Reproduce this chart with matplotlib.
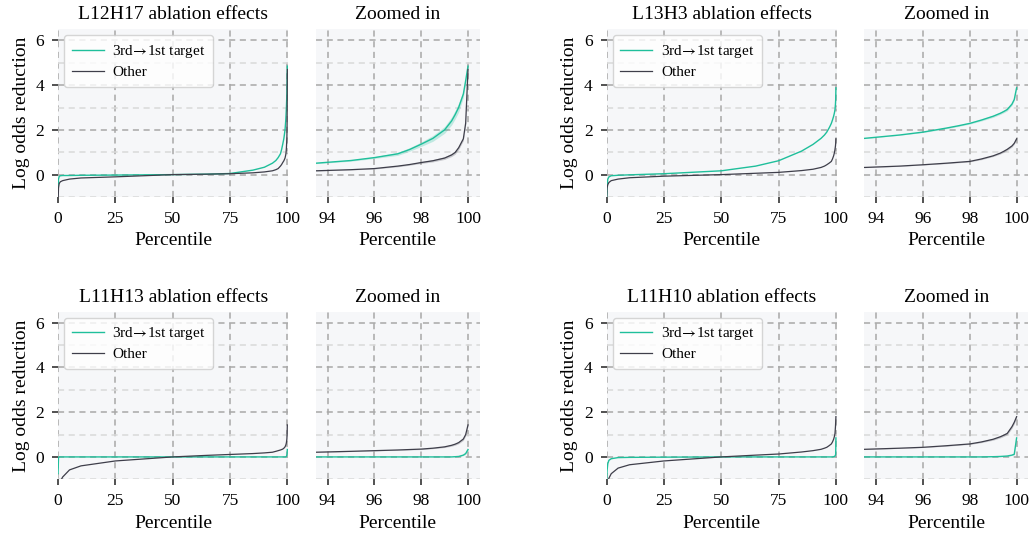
import matplotlib
matplotlib.use("Agg")
import matplotlib.pyplot as plt
from matplotlib.ticker import MultipleLocator

plt.rcParams["font.family"] = ["Liberation Serif", "DejaVu Serif"]
plt.rcParams["mathtext.fontset"] = "stix"

TEAL = "#1fbf9b"
GRAY = "#3e3e4a"
BG = "#f6f7f9"

# percentile knots shared by every curve
PCT = [0, 0.2, 0.5, 1, 2, 5, 10, 25, 50, 65, 75, 85, 90,
       93.5, 95, 96, 97, 97.5, 98, 98.5, 99, 99.3, 99.45, 99.6, 99.8, 99.9, 100]
N_TAIL = 14  # knots from 93.5 onwards carry a spread band

heads = ["L12H17", "L13H3", "L11H13", "L11H10"]

l12h17_target = [-0.6, -0.2, -0.08, -0.05, -0.04, -0.04, -0.03, -0.02, 0.0, 0.02, 0.05, 0.2, 0.33,
                 0.51, 0.63, 0.76, 0.93, 1.12, 1.36, 1.62, 2.0, 2.4, 2.68, 3.0, 3.6, 4.2, 4.85]
l12h17_other = [-1.3, -0.6, -0.4, -0.32, -0.27, -0.2, -0.15, -0.1, 0.0, 0.02, 0.04, 0.08, 0.12,
                0.17, 0.22, 0.27, 0.38, 0.45, 0.54, 0.62, 0.74, 0.88, 0.99, 1.2, 1.6, 2.3, 4.7]
l13h3_target = [-1.05, -0.5, -0.2, -0.1, -0.05, -0.03, -0.01, 0.04, 0.17, 0.38, 0.62, 1.05, 1.35,
                1.62, 1.77, 1.9, 2.08, 2.18, 2.29, 2.44, 2.61, 2.74, 2.82, 2.91, 3.15, 3.36, 3.88]
l13h3_other = [-1.05, -0.6, -0.45, -0.35, -0.27, -0.2, -0.14, -0.07, 0.0, 0.06, 0.1, 0.18, 0.24,
               0.32, 0.38, 0.44, 0.51, 0.55, 0.59, 0.7, 0.84, 0.96, 1.04, 1.13, 1.28, 1.4, 1.6]
l11h13_target = [-0.75, -0.02, 0.0, 0.0, 0.0, 0.0, 0.0, 0.0, 0.0, 0.0, 0.0, 0.0, 0.0,
                 0.0, 0.0, 0.0, 0.0, 0.0, 0.0, 0.0, 0.0, 0.0, 0.01, 0.02, 0.08, 0.15, 0.33]
l11h13_other = [-1.8, -1.5, -1.3, -1.1, -0.9, -0.58, -0.4, -0.18, 0.0, 0.07, 0.11, 0.15, 0.18,
                0.21, 0.25, 0.28, 0.31, 0.33, 0.35, 0.39, 0.45, 0.52, 0.57, 0.64, 0.8, 1.0, 1.43]
l11h10_target = [-1.05, -0.6, -0.3, -0.15, -0.08, -0.03, -0.02, -0.01, 0.0, 0.0, 0.0, 0.0, 0.0,
                 0.0, 0.0, 0.0, 0.0, 0.0, 0.0, 0.0, 0.01, 0.02, 0.03, 0.04, 0.08, 0.12, 0.85]
l11h10_other = [-1.6, -1.3, -1.1, -0.95, -0.75, -0.5, -0.35, -0.18, 0.0, 0.08, 0.13, 0.22, 0.28,
                0.34, 0.39, 0.43, 0.5, 0.54, 0.58, 0.67, 0.79, 0.9, 0.97, 1.05, 1.35, 1.55, 1.8]

# half-width of the shaded band over the tail knots
l12h17_target_err = [0.02, 0.03, 0.04, 0.07, 0.08, 0.1, 0.13, 0.15, 0.18, 0.19, 0.2, 0.15, 0.1, 0.05]
l12h17_other_err = [0.01, 0.01, 0.02, 0.03, 0.03, 0.04, 0.05, 0.06, 0.07, 0.075, 0.08, 0.08, 0.06, 0.04]
l13h3_target_err = [0.01, 0.01, 0.02, 0.03, 0.03, 0.03, 0.04, 0.05, 0.05, 0.055, 0.06, 0.06, 0.05, 0.04]
l13h3_other_err = [0.01, 0.01, 0.01, 0.02, 0.02, 0.02, 0.03, 0.03, 0.04, 0.045, 0.05, 0.05, 0.04, 0.03]
l11h13_target_err = [0, 0, 0, 0, 0, 0, 0, 0, 0, 0.005, 0.01, 0.02, 0.03, 0.03]
l11h13_other_err = [0.01, 0.01, 0.01, 0.01, 0.015, 0.02, 0.02, 0.03, 0.04, 0.045, 0.05, 0.06, 0.06, 0.05]
l11h10_target_err = [0, 0, 0, 0, 0, 0, 0, 0, 0.01, 0.01, 0.01, 0.02, 0.03, 0.03]
l11h10_other_err = [0.01, 0.01, 0.01, 0.02, 0.02, 0.02, 0.03, 0.04, 0.05, 0.055, 0.06, 0.07, 0.07, 0.05]

series = {
    "L12H17": (l12h17_target, l12h17_other, l12h17_target_err, l12h17_other_err),
    "L13H3": (l13h3_target, l13h3_other, l13h3_target_err, l13h3_other_err),
    "L11H13": (l11h13_target, l11h13_other, l11h13_target_err, l11h13_other_err),
    "L11H10": (l11h10_target, l11h10_other, l11h10_target_err, l11h10_other_err),
}

fig = plt.figure(figsize=(10.31, 5.36), dpi=100)

# [left of main panel, bottom] for each head
slots = [(0.0563, 0.6325), (0.5884, 0.6325), (0.0563, 0.1058), (0.5884, 0.1058)]
MAIN_W, ZOOM_W, H = 0.2235, 0.159, 0.313
GAP = 0.0265


def style(ax):
    ax.set_facecolor(BG)
    for s in ax.spines.values():
        s.set_visible(False)
    ax.set_ylim(-1.0, 6.5)
    ax.yaxis.set_major_locator(MultipleLocator(2))
    ax.yaxis.set_minor_locator(MultipleLocator(1))
    ax.grid(which="major", ls=(0, (4, 3)), color="#a8a8a8", lw=1.1)
    ax.grid(which="minor", axis="y", ls=(0, (4, 3)), color="#d9d9d9", lw=1.1)
    ax.tick_params(which="major", length=4, width=1.1, color="#222222", labelsize=12.5)
    ax.tick_params(axis="x", pad=6)
    ax.tick_params(axis="y", pad=6)
    ax.tick_params(which="minor", length=0)
    ax.set_axisbelow(True)
    ax.set_xlabel("Percentile", fontsize=14, labelpad=4)


for head, (x0, y0) in zip(heads, slots):
    tgt, oth, tgt_err, oth_err = series[head]

    ax = fig.add_axes([x0, y0, MAIN_W, H])
    style(ax)
    ax.plot(PCT, tgt, color=TEAL, lw=1.0, label=r"3rd$\!\rightarrow\!$1st target", zorder=3)
    ax.plot(PCT, oth, color=GRAY, lw=0.9, label="Other", zorder=3)
    ax.set_xlim(0, 100.5)
    ax.set_xticks([0, 25, 50, 75, 100])
    ax.set_ylabel("Log odds reduction", fontsize=14, labelpad=4)
    ax.set_title(f"{head} ablation effects", fontsize=14, pad=7)
    leg = ax.legend(loc="upper left", fontsize=11, frameon=True, fancybox=True,
                    handlelength=2.1, handletextpad=0.55, borderpad=0.5,
                    labelspacing=0.35, borderaxespad=0.4)
    leg.get_frame().set_facecolor("white")
    leg.get_frame().set_alpha(0.8)
    leg.get_frame().set_edgecolor("#cccccc")

    zx = fig.add_axes([x0 + MAIN_W + GAP, y0, ZOOM_W, H])
    style(zx)
    tail = PCT[-N_TAIL:]
    for vals, err, c in ((tgt, tgt_err, TEAL), (oth, oth_err, GRAY)):
        tv = vals[-N_TAIL:]
        zx.fill_between(tail, [v - e for v, e in zip(tv, err)], [v + e for v, e in zip(tv, err)],
                        color=c, alpha=0.25, lw=0, zorder=2)
    zx.plot(PCT, tgt, color=TEAL, lw=1.0, zorder=3)
    zx.plot(PCT, oth, color=GRAY, lw=0.9, zorder=3)
    zx.set_xlim(93.5, 100.5)
    zx.set_xticks([94, 96, 98, 100])
    zx.tick_params(axis="y", which="both", left=False, labelleft=False)
    zx.set_title("Zoomed in", fontsize=14, pad=7)

fig.savefig("out.png", dpi=100)
